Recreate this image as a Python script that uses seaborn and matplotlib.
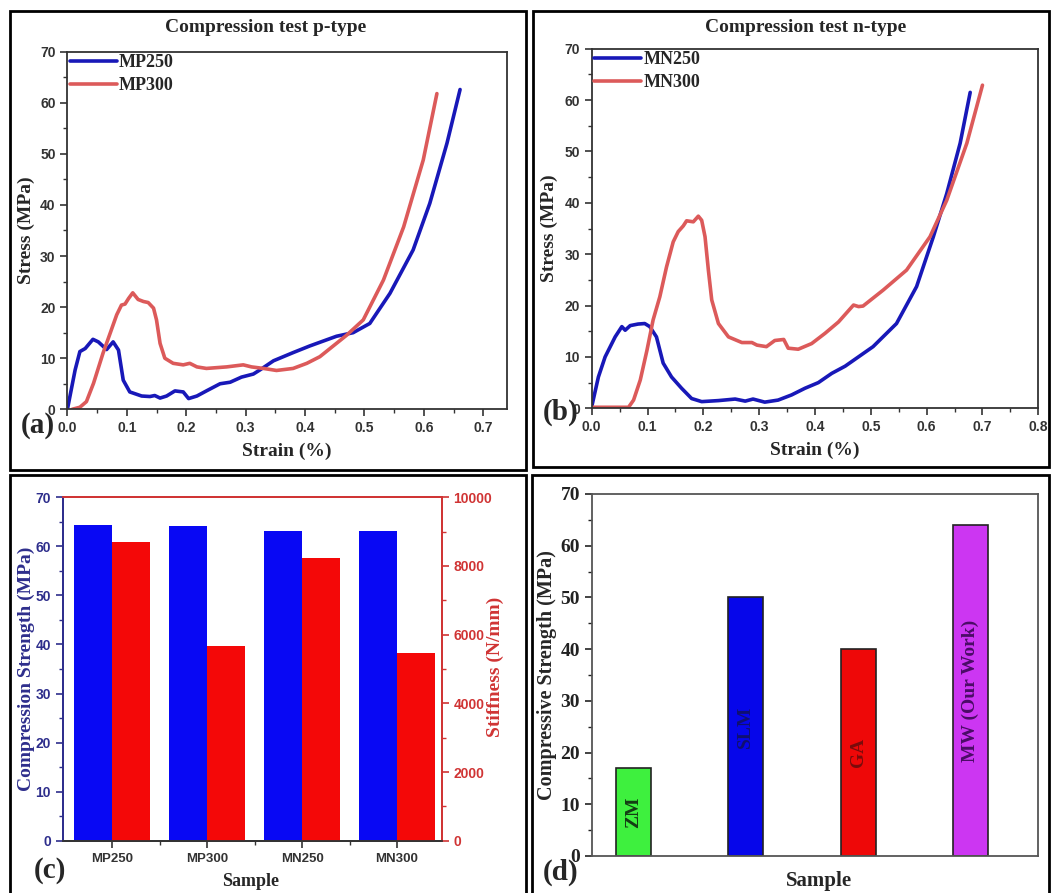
import numpy as np
import pandas as pd
import seaborn as sns
import matplotlib.pyplot as plt
from matplotlib.patches import Rectangle
from matplotlib.ticker import MultipleLocator

# (a) compression test, p-type
mp250_strain = [0.000, 0.013, 0.021, 0.030, 0.043, 0.052, 0.066, 0.077, 0.086, 0.094, 0.105, 0.125,
                0.139, 0.147, 0.156, 0.167, 0.181, 0.195, 0.204, 0.218, 0.234, 0.257, 0.274, 0.293,
                0.313, 0.324, 0.347, 0.380, 0.408, 0.453, 0.481, 0.509, 0.543, 0.582, 0.610, 0.639, 0.661]
mp250_stress = [0.0, 7.7, 11.3, 11.9, 13.7, 13.2, 11.7, 13.2, 11.6, 5.7, 3.4, 2.6,
                2.5, 2.7, 2.2, 2.6, 3.6, 3.4, 2.1, 2.6, 3.6, 5.0, 5.3, 6.3,
                6.9, 7.7, 9.5, 11.1, 12.4, 14.3, 15.0, 16.8, 22.7, 31.2, 40.3, 52.1, 62.6]
mp300_strain = [0.008, 0.021, 0.032, 0.044, 0.060, 0.072, 0.083, 0.091, 0.097, 0.103, 0.110, 0.119,
                0.128, 0.136, 0.145, 0.150, 0.156, 0.164, 0.178, 0.195, 0.206, 0.218, 0.234, 0.268,
                0.296, 0.310, 0.330, 0.352, 0.380, 0.403, 0.425, 0.470, 0.498, 0.532, 0.566, 0.599, 0.622]
mp300_stress = [0.0, 0.4, 1.5, 5.1, 11.0, 14.9, 18.5, 20.4, 20.6, 21.7, 22.8, 21.5,
                21.1, 20.9, 19.8, 17.5, 12.9, 10.0, 9.0, 8.7, 9.0, 8.3, 8.0, 8.3,
                8.7, 8.3, 8.0, 7.6, 8.0, 9.0, 10.3, 14.5, 17.5, 25.3, 35.7, 48.8, 61.8]

# (b) compression test, n-type
mn250_strain = [0.000, 0.012, 0.024, 0.042, 0.054, 0.060, 0.069, 0.083, 0.095, 0.104, 0.116, 0.128,
                0.143, 0.161, 0.179, 0.197, 0.227, 0.257, 0.275, 0.289, 0.310, 0.334, 0.358, 0.382,
                0.406, 0.430, 0.454, 0.504, 0.546, 0.582, 0.612, 0.636, 0.660, 0.678]
mn250_stress = [0.3, 6.1, 10.0, 13.9, 15.9, 15.2, 16.1, 16.4, 16.5, 15.9, 13.9, 8.8,
                6.1, 3.9, 1.9, 1.3, 1.5, 1.8, 1.4, 1.8, 1.2, 1.6, 2.6, 3.9,
                5.0, 6.8, 8.2, 12.0, 16.5, 23.7, 33.4, 41.8, 51.6, 61.5]
mn300_strain = [0.000, 0.066, 0.075, 0.087, 0.099, 0.110, 0.122, 0.134, 0.146, 0.155, 0.164, 0.170,
                0.182, 0.191, 0.197, 0.203, 0.209, 0.215, 0.227, 0.245, 0.269, 0.287, 0.296, 0.313,
                0.328, 0.344, 0.352, 0.370, 0.394, 0.418, 0.442, 0.469, 0.478, 0.486, 0.522, 0.564,
                0.606, 0.636, 0.672, 0.700]
mn300_stress = [0.2, 0.2, 1.6, 5.5, 11.3, 17.2, 21.7, 27.5, 32.4, 34.4, 35.5, 36.5,
                36.3, 37.4, 36.6, 33.4, 26.9, 21.1, 16.5, 13.9, 12.8, 12.8, 12.3, 12.0,
                13.2, 13.4, 11.7, 11.5, 12.6, 14.6, 16.8, 20.1, 19.8, 19.9, 23.0, 26.9,
                33.4, 40.5, 51.6, 62.9]

# (c) strength and stiffness per sample
samples_c = ["MP250", "MP300", "MN250", "MN300"]
strength_c = [64.4, 64.2, 63.2, 63.2]
stiffness_c = [8700, 5680, 8220, 5460]

# (d) comparison with other methods
methods_d = ["ZM", "SLM", "GA", "MW (Our Work)"]
strength_d = [17, 50, 40, 64]

sns.set_style("ticks")
plt.rcParams["font.family"] = ["Liberation Sans", "DejaVu Sans"]
plt.rcParams["font.weight"] = "bold"
plt.rcParams["axes.labelweight"] = "bold"
SERIF = "Liberation Serif"
W, H = 1051, 893


def box(l, t, r, b):
    # pixel box (from top-left) -> figure fraction
    return [l / W, 1 - b / H, (r - l) / W, (b - t) / H]


fig = plt.figure(figsize=(W / 100, H / 100), dpi=100)

# frames round each panel
for l, t, r, b in [(10, 11, 526, 470), (533, 11, 1049, 467), (10, 475, 526, 905), (532, 475, 1049, 905)]:
    fig.add_artist(Rectangle((l / W, 1 - b / H), (r - l) / W, (b - t) / H,
                             transform=fig.transFigure, fill=False, lw=2, ec="black"))


def curve_panel(ax, df, names, xmax, xticks, title, title_x, ylab_x):
    pal = {names[0]: "#1818b8", names[1]: "#dc5a5a"}
    sns.lineplot(data=df, x="strain", y="stress", hue="sample", palette=pal, sort=False,
                 estimator=None, lw=2.6, ax=ax)
    ax.set_xlim(0, xmax)
    ax.set_ylim(0, 70)
    ax.set_xticks(xticks)
    ax.set_xticklabels([f"{v:.1f}" for v in xticks])
    ax.set_yticks(range(0, 71, 10))
    ax.xaxis.set_minor_locator(MultipleLocator(0.05))
    ax.yaxis.set_minor_locator(MultipleLocator(5))
    ax.tick_params(which="major", direction="out", length=5, width=1.2, labelsize=10, colors="#333333")
    ax.tick_params(which="minor", direction="out", length=3, width=1.0, colors="#333333")
    for s in ax.spines.values():
        s.set_color("#333333")
        s.set_linewidth(1.3)
    ax.set_xlabel("Strain (%)", family=SERIF, size=14)
    ax.set_ylabel("Stress (MPa)", family=SERIF, size=14)
    ax.xaxis.set_label_coords(0.5, -0.094)
    ax.yaxis.set_label_coords(ylab_x, 0.5)
    ax.legend(loc="upper left", bbox_to_anchor=(0, 1), borderaxespad=0, borderpad=0.15,
              frameon=False, handlelength=2.6, handletextpad=0.1, labelspacing=0.33,
              prop={"family": SERIF, "weight": "bold", "size": 13})
    fig.text(title_x / W, 1 - 27 / H, title, ha="center", va="center",
             family=SERIF, weight="bold", size=14)


df_a = pd.DataFrame({"strain": mp250_strain + mp300_strain,
                     "stress": mp250_stress + mp300_stress,
                     "sample": ["MP250"] * len(mp250_strain) + ["MP300"] * len(mp300_strain)})
ax_a = fig.add_axes(box(67.4, 51.7, 507, 409.3))
curve_panel(ax_a, df_a, ["MP250", "MP300"], 0.74, np.arange(0, 0.71, 0.1),
            "Compression test p-type", 266, -0.074)

df_b = pd.DataFrame({"strain": mn250_strain + mn300_strain,
                     "stress": mn250_stress + mn300_stress,
                     "sample": ["MN250"] * len(mn250_strain) + ["MN300"] * len(mn300_strain)})
ax_b = fig.add_axes(box(591.7, 48.7, 1038.3, 408.3))
curve_panel(ax_b, df_b, ["MN250", "MN300"], 0.8, np.arange(0, 0.81, 0.1),
            "Compression test n-type", 806, -0.075)

# (c) twin-axis grouped bars
df_c = pd.DataFrame({"sample": samples_c * 2,
                     "quantity": ["strength"] * 4 + ["stiffness"] * 4,
                     "value": strength_c + stiffness_c})
pal_c = {"strength": "#0808f4", "stiffness": "#f40808"}
NAVY, RED = "#2e2e8c", "#d03434"
ax_c = fig.add_axes(box(62.7, 497.3, 441.7, 840.7))
sns.barplot(data=df_c[df_c.quantity == "strength"], x="sample", y="value", hue="quantity",
            order=samples_c, hue_order=["strength", "stiffness"], palette=pal_c, saturation=1,
            width=0.8, dodge=True, linewidth=0, legend=False, ax=ax_c)
ax_c2 = ax_c.twinx()
sns.barplot(data=df_c[df_c.quantity == "stiffness"], x="sample", y="value", hue="quantity",
            order=samples_c, hue_order=["strength", "stiffness"], palette=pal_c, saturation=1,
            width=0.8, dodge=True, linewidth=0, legend=False, ax=ax_c2)
ax_c.set_xlim(-0.52, 3.47)
ax_c.set_ylim(0, 70)
ax_c2.set_ylim(0, 10000)
ax_c.set_yticks(range(0, 71, 10))
ax_c.yaxis.set_minor_locator(MultipleLocator(5))
ax_c2.set_yticks(range(0, 10001, 2000))
ax_c2.yaxis.set_minor_locator(MultipleLocator(1000))
ax_c.set_xticks(range(len(samples_c)))
ax_c.set_xticks(np.arange(0.5, len(samples_c) - 1, 1), minor=True)
ax_c.tick_params(axis="x", which="major", length=5, width=1.2, labelsize=9.5, colors="#333333")
ax_c.tick_params(axis="x", which="minor", length=3, width=1.0, color="#333333")
ax_c.tick_params(axis="y", which="major", length=5, width=1.2, labelsize=10, colors=NAVY)
ax_c.tick_params(axis="y", which="minor", length=3, width=1.0, colors=NAVY)
ax_c2.tick_params(axis="y", which="major", length=5, width=1.2, labelsize=10, colors=RED)
ax_c2.tick_params(axis="y", which="minor", length=3, width=1.0, colors=RED)
for a in (ax_c, ax_c2):
    a.spines["left"].set_color(NAVY)
    a.spines["right"].set_color(RED)
    a.spines["top"].set_color(RED)
    a.spines["bottom"].set_color("#333333")
    for s in a.spines.values():
        s.set_linewidth(1.3)
ax_c.set_xlabel("Sample", family=SERIF, size=13)
ax_c.set_ylabel("Compression Strength (MPa)", family=SERIF, size=14, color=NAVY)
ax_c2.set_ylabel("Stiffness (N/mm)", family=SERIF, size=14, color=RED)
ax_c.xaxis.set_label_coords(0.495, -0.093)
ax_c.yaxis.set_label_coords(-0.073, 0.5)
ax_c2.yaxis.set_label_coords(1.118, 0.507)

# (d) comparison bars
colors_d = ["#3ef03e", "#0606ea", "#ee0808", "#cc36f2"]
text_d = ["#143c14", "#101070", "#7a0c0c", "#4a0c66"]
ax_d = fig.add_axes(box(591.7, 494, 1038.3, 856))
sns.barplot(x=methods_d, y=strength_d, hue=methods_d, palette=colors_d, saturation=1,
            width=0.31, edgecolor="#222222", linewidth=1.2, legend=False, ax=ax_d)
for i, (name, val) in enumerate(zip(methods_d, strength_d)):
    ax_d.text(i, val / 2, name, rotation=90, ha="center", va="center",
              family=SERIF, weight="bold", size=14, color=text_d[i])
ax_d.set_xlim(-0.37, 3.6)
ax_d.set_ylim(0, 70)
ax_d.set_yticks(range(0, 71, 10), labels=[str(v) for v in range(0, 71, 10)],
                family=SERIF, weight="bold", size=14)
ax_d.yaxis.set_minor_locator(MultipleLocator(5))
ax_d.tick_params(axis="x", length=0, labelbottom=False)
ax_d.tick_params(axis="y", which="major", length=5, width=1.2, colors="#222222")
ax_d.tick_params(axis="y", which="minor", length=3, width=1.0, colors="#222222")
for s in ax_d.spines.values():
    s.set_color("#555555")
    s.set_linewidth(1.3)
ax_d.set_xlabel("Sample", family=SERIF, size=15)
ax_d.set_ylabel("Compressive Strength (MPa)", family=SERIF, size=14.5)
ax_d.xaxis.set_label_coords(0.509, -0.041)
ax_d.yaxis.set_label_coords(-0.078, 0.5)

# panel letters
for lab, x, y in [("(a)", 38, 426), ("(b)", 561, 412), ("(c)", 50, 870), ("(d)", 561, 872)]:
    fig.text(x / W, 1 - y / H, lab, ha="center", va="center", family=SERIF, weight="bold", size=21)

fig.savefig("out.png", dpi=100)
